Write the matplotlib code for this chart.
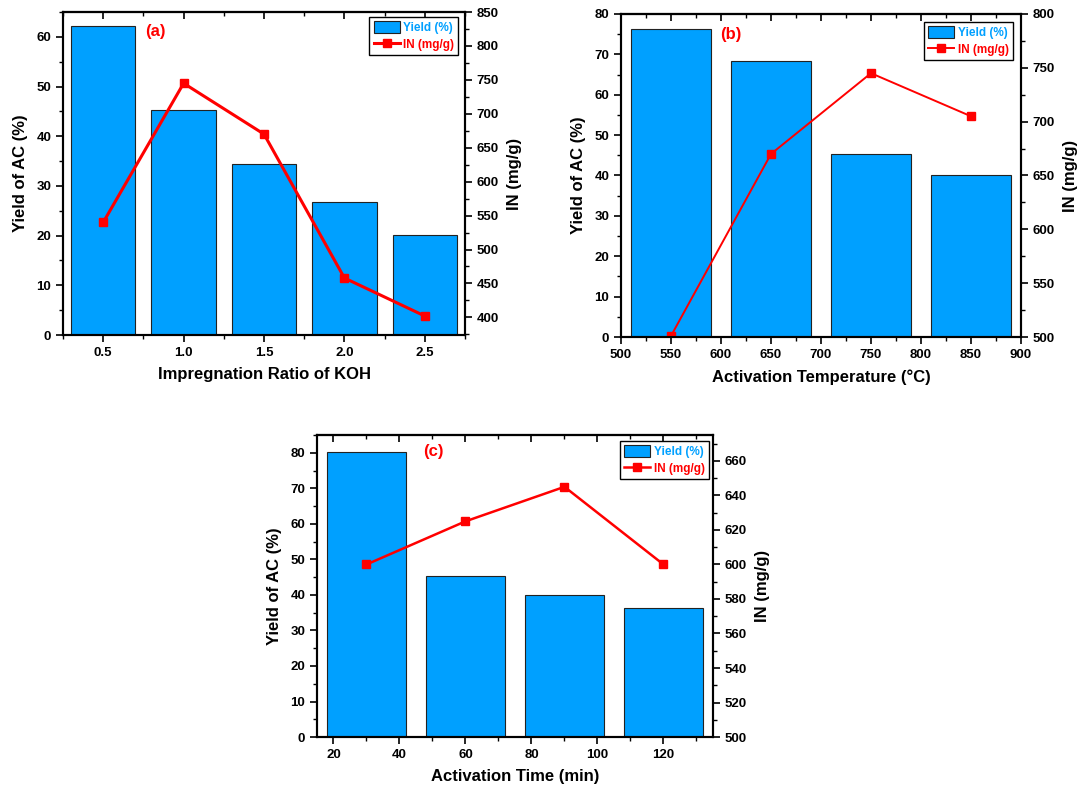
import matplotlib.pyplot as plt
from matplotlib.ticker import MultipleLocator

plt.rcParams["font.family"] = ["Liberation Sans", "DejaVu Sans"]
plt.rcParams["font.weight"] = "bold"
plt.rcParams["axes.labelweight"] = "bold"

# (a) Impregnation ratio
ratio = [0.5, 1.0, 1.5, 2.0, 2.5]
ratio_yield = [62.1, 45.2, 34.4, 26.7, 20.2]
ratio_in = [540, 745, 670, 458, 402]

# (b) Activation temperature
temp = [550, 650, 750, 850]
temp_yield = [76.4, 68.3, 45.2, 40.1]
temp_in = [501, 670, 745, 705]

# (c) Activation time
act_time = [30, 60, 90, 120]
time_yield = [80.2, 45.2, 40.1, 36.4]
time_in = [600, 625, 645, 600]

BAR = "#00A0FF"
RED = "#FF0000"

fig = plt.figure(figsize=(10.77, 7.85), dpi=100)


def panel(rect, x, yld, inn, width, xlim, xstep, ylim, ystep, y2lim, y2step,
          xlabel, tag, tagpos, lw, leg_anchor):
    ax = fig.add_axes(rect)
    ax.bar(x, yld, width=width, color=BAR, edgecolor="#222222", linewidth=0.8,
           label="Yield (%)")
    ax.set_xlim(*xlim)
    ax.set_ylim(*ylim)
    ax.xaxis.set_major_locator(MultipleLocator(xstep[0]))
    ax.xaxis.set_minor_locator(MultipleLocator(xstep[1]))
    ax.yaxis.set_major_locator(MultipleLocator(ystep[0]))
    ax.yaxis.set_minor_locator(MultipleLocator(ystep[1]))
    ax.set_xlabel(xlabel, fontsize=12, labelpad=6)
    ax.set_ylabel("Yield of AC (%)", fontsize=12, labelpad=6)
    ax.tick_params(which="major", direction="out", length=5, width=1.2, labelsize=9.5)
    ax.tick_params(which="minor", direction="out", length=3, width=1.0)

    # top axis: inward ticks, no labels
    top = ax.secondary_xaxis("top")
    top.xaxis.set_major_locator(MultipleLocator(xstep[0]))
    top.xaxis.set_minor_locator(MultipleLocator(xstep[1]))
    top.tick_params(which="major", direction="in", length=5, width=1.2, labeltop=False)
    top.tick_params(which="minor", direction="in", length=3, width=1.0)

    ax2 = ax.twinx()
    ax2.plot(x, inn, color=RED, lw=lw, marker="s", markersize=6, label="IN (mg/g)")
    ax2.set_ylim(*y2lim)
    ax2.yaxis.set_major_locator(MultipleLocator(y2step[0]))
    ax2.yaxis.set_minor_locator(MultipleLocator(y2step[1]))
    ax2.set_ylabel("IN (mg/g)", fontsize=12, labelpad=6)
    ax2.tick_params(which="major", direction="out", length=5, width=1.2, labelsize=9.5)
    ax2.tick_params(which="minor", direction="out", length=3, width=1.0)

    for a in (ax, ax2):
        for s in a.spines.values():
            s.set_linewidth(1.5)
    for s in top.spines.values():
        s.set_linewidth(1.5)

    ax.text(tagpos[0], tagpos[1], tag, transform=ax.transAxes, color=RED,
            fontsize=12, fontweight="bold", ha="center", va="center")

    h1, l1 = ax.get_legend_handles_labels()
    h2, l2 = ax2.get_legend_handles_labels()
    leg = ax2.legend(h1 + h2, l1 + l2, loc="upper right", bbox_to_anchor=leg_anchor,
                     fontsize=8.5, fancybox=False, framealpha=1, edgecolor="black",
                     handlelength=2.2, handleheight=1.2, borderpad=0.35,
                     labelspacing=0.3, handletextpad=0.3, borderaxespad=0)
    leg.get_frame().set_linewidth(1.0)
    for txt, c in zip(leg.get_texts(), [BAR, RED]):
        txt.set_color(c)
    return ax, ax2


panel([0.0585, 0.5732, 0.3733, 0.4115], ratio, ratio_yield, ratio_in, 0.4,
      (0.25, 2.75), (0.5, 0.25), (0, 65), (10, 5), (374, 850), (50, 25),
      "Impregnation Ratio of KOH", "(a)", (0.229, 0.941), 2.2, (0.983, 0.985))

panel([0.5766, 0.5707, 0.3714, 0.4115], temp, temp_yield, temp_in, 80,
      (500, 900), (50, 25), (0, 80), (10, 5), (500, 800), (50, 25),
      "Activation Temperature (°C)", "(b)", (0.275, 0.935), 1.4, (0.98, 0.975))

panel([0.2943, 0.0611, 0.3677, 0.3847], act_time, time_yield, time_in, 24,
      (15, 135), (20, 10), (0, 85), (10, 5), (500, 675), (20, 10),
      "Activation Time (min)", "(c)", (0.293, 0.947), 1.8, (0.99, 0.98))

fig.savefig("out.png", dpi=100)
